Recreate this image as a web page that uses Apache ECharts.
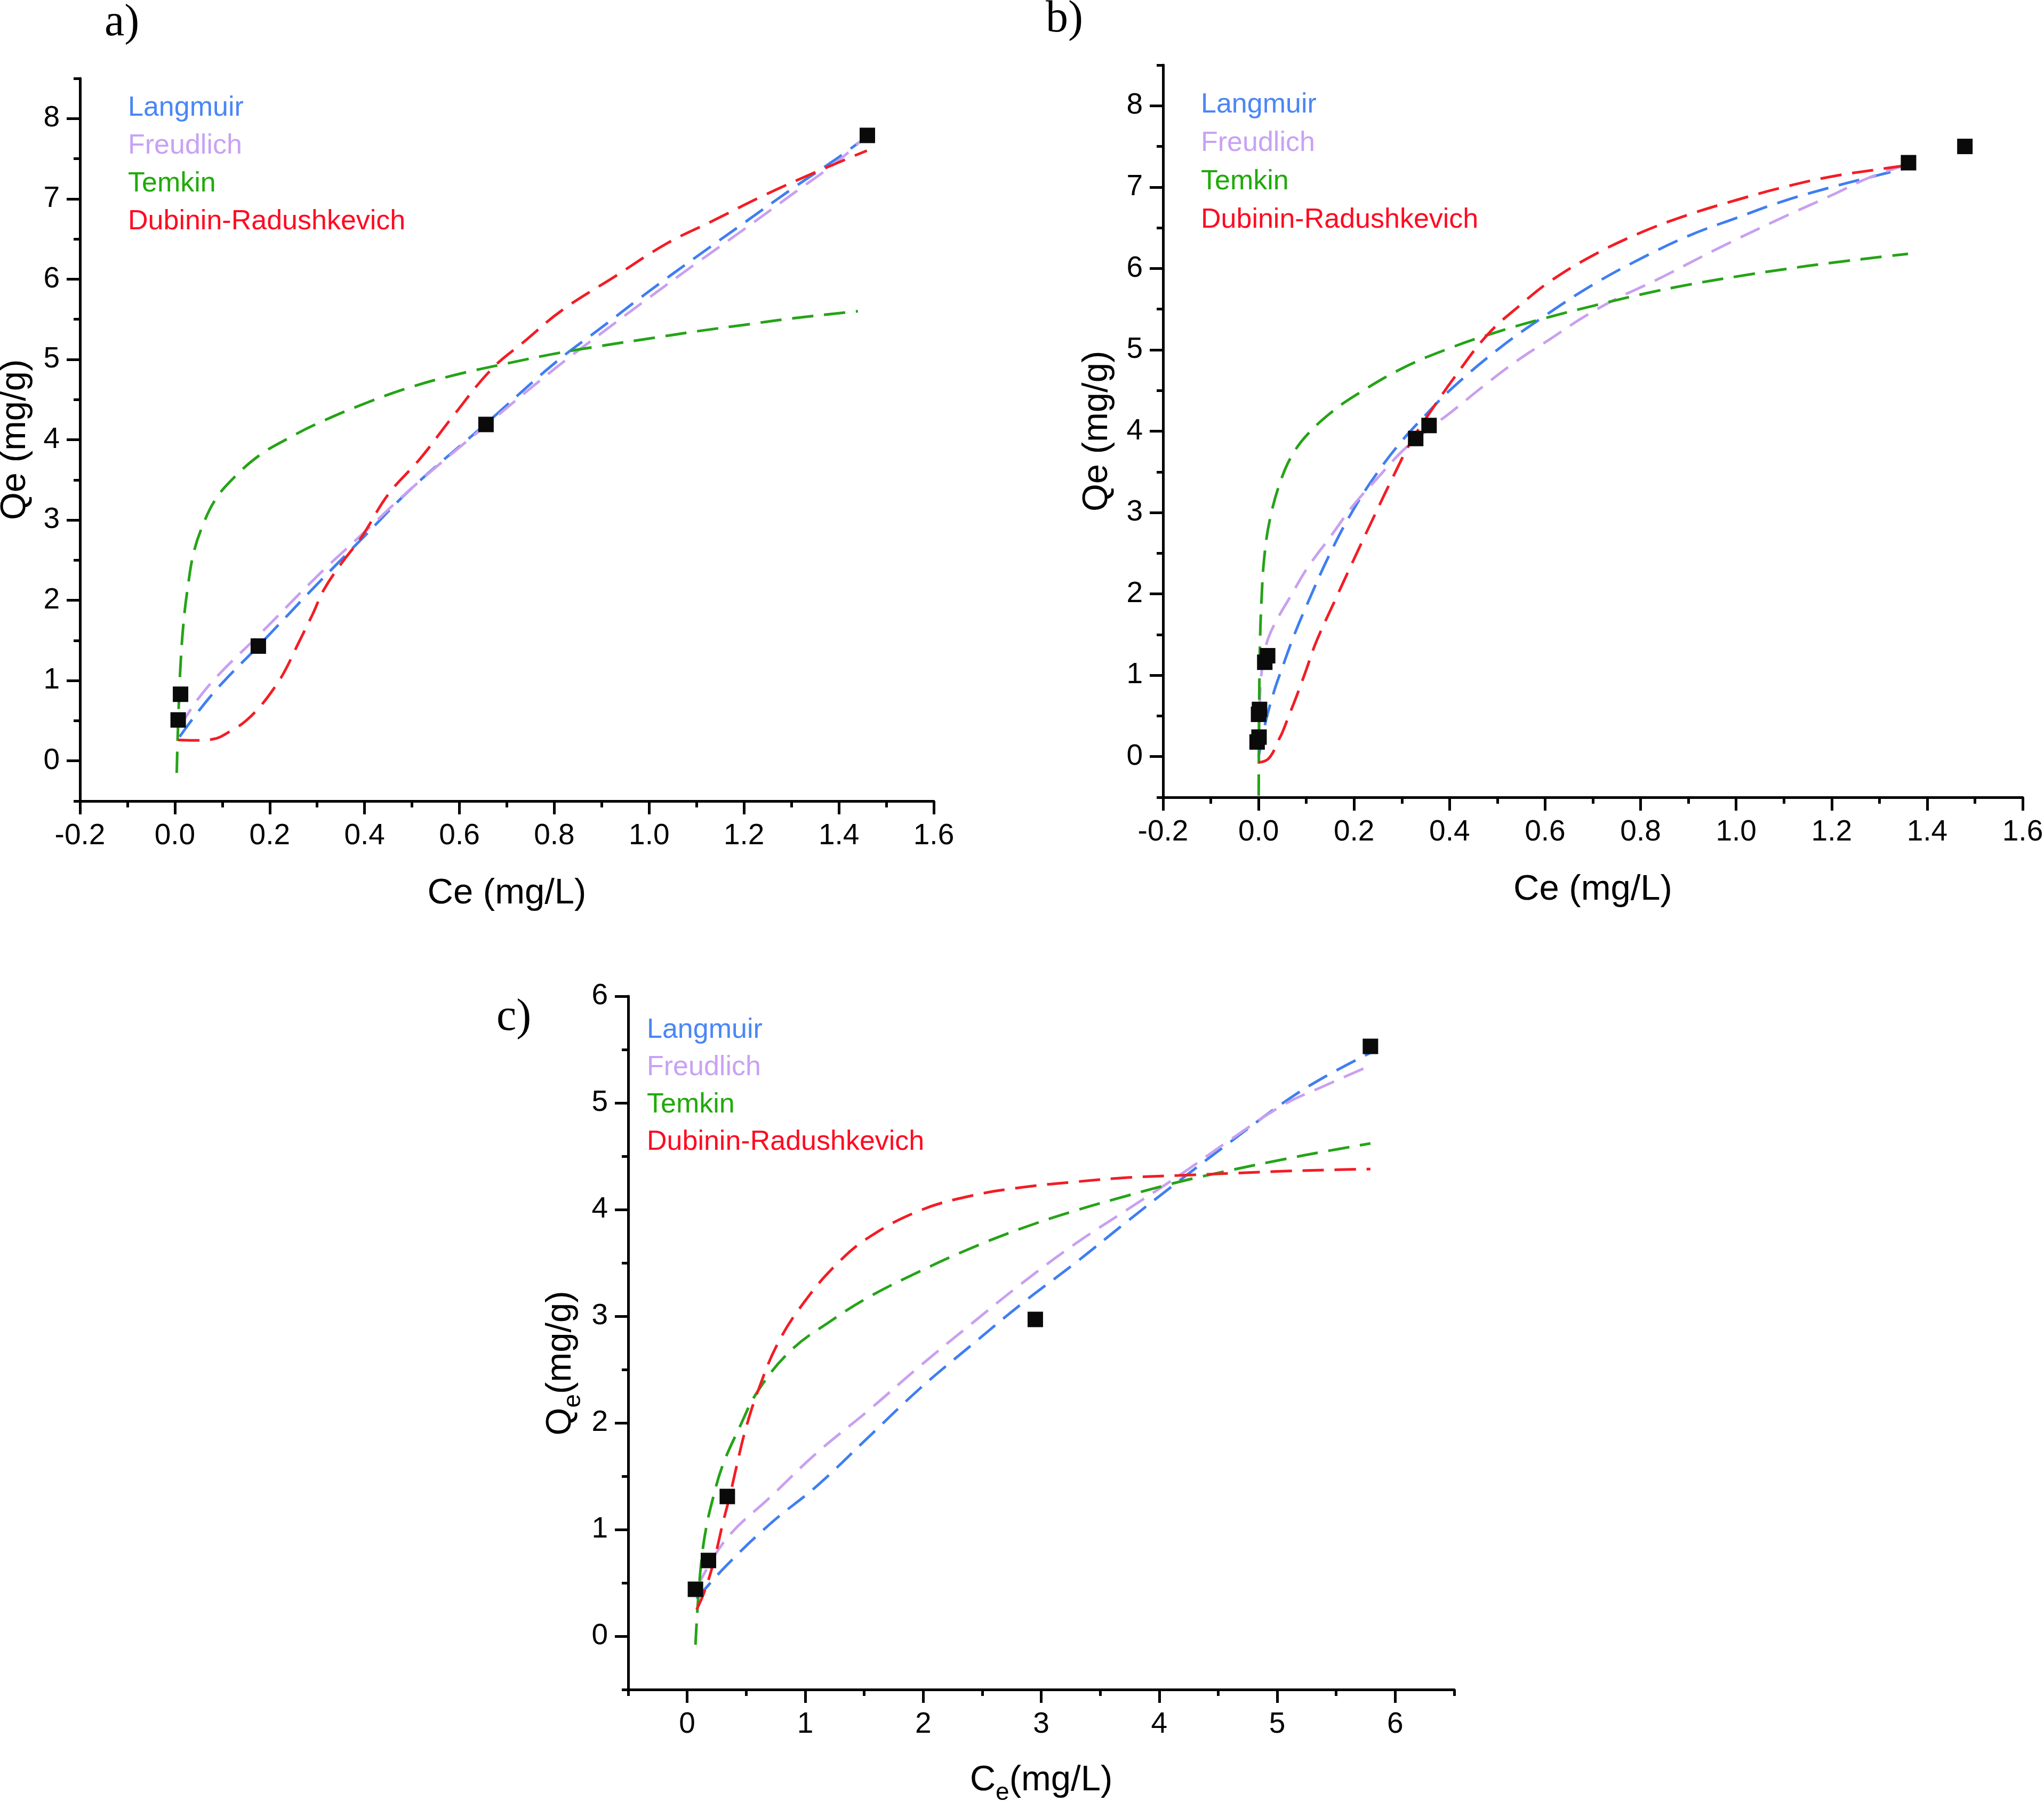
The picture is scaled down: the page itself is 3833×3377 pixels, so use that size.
<!DOCTYPE html>
<html>
<head>
<meta charset="utf-8">
<script src="https://cdn.jsdelivr.net/npm/echarts@6/dist/echarts.min.js"></script>
<style>
html,body{margin:0;padding:0;background:#fff;}
#chart{width:3833px;height:3377px;}
</style>
</head>
<body>
<div id="chart"></div>
<script>
// ---------- names ----------
const seriesNames = ['Langmuir', 'Freudlich', 'Temkin', 'Dubinin-Radushkevich'];

// ---------- tick labels ----------
const abXTicks = [-0.2, 0.0, 0.2, 0.4, 0.6, 0.8, 1.0, 1.2, 1.4, 1.6];
const abXMinor = [-0.1, 0.1, 0.3, 0.5, 0.7, 0.9, 1.1, 1.3, 1.5];
const abYTicks = [0, 1, 2, 3, 4, 5, 6, 7, 8];
const abYMinor = [-0.5, 0.5, 1.5, 2.5, 3.5, 4.5, 5.5, 6.5, 7.5, 8.5];
const cXTicks = [0, 1, 2, 3, 4, 5, 6];
const cXMinor = [-0.5, 0.5, 1.5, 2.5, 3.5, 4.5, 5.5, 6.5];
const cYTicks = [0, 1, 2, 3, 4, 5, 6];
const cYMinor = [-0.5, 0.5, 1.5, 2.5, 3.5, 4.5, 5.5];

// ---------- panel a ----------
const aPtX = [0.007, 0.012, 0.176, 0.656, 1.460];
const aPtY = [0.51, 0.83, 1.43, 4.19, 7.79];
const aLangX = [0.01, 0.05, 0.1, 0.176, 0.3, 0.4, 0.5, 0.656, 0.8, 0.9, 1.0, 1.1, 1.2, 1.3, 1.4, 1.46];
const aLangY = [0.30, 0.62, 0.97, 1.43, 2.2, 2.8, 3.4, 4.2, 4.95, 5.4, 5.85, 6.28, 6.7, 7.12, 7.52, 7.78];
const aFreuX = [0.01, 0.05, 0.1, 0.176, 0.3, 0.4, 0.5, 0.656, 0.8, 0.9, 1.0, 1.1, 1.2, 1.3, 1.4, 1.46];
const aFreuY = [0.42, 0.78, 1.12, 1.56, 2.3, 2.85, 3.4, 4.18, 4.88, 5.33, 5.77, 6.2, 6.62, 7.05, 7.48, 7.8];
const aTemkX = [0.004, 0.006, 0.009, 0.012, 0.018, 0.027, 0.04, 0.06, 0.085, 0.12, 0.177, 0.24, 0.3, 0.4, 0.5, 0.6, 0.7, 0.8, 0.9, 1.0, 1.1, 1.2, 1.3, 1.44];
const aTemkY = [-0.15, 0.3, 0.8, 1.2, 1.7, 2.15, 2.6, 2.95, 3.25, 3.5, 3.8, 4.02, 4.2, 4.45, 4.66, 4.82, 4.95, 5.07, 5.17, 5.26, 5.35, 5.43, 5.51, 5.6];
const aDRX = [0.007, 0.04, 0.08, 0.12, 0.15, 0.18, 0.205, 0.23, 0.26, 0.29, 0.314, 0.35, 0.395, 0.45, 0.518, 0.586, 0.668, 0.736, 0.818, 0.927, 1.036, 1.132, 1.241, 1.35, 1.459];
const aDRY = [0.26, 0.255, 0.27, 0.38, 0.5, 0.68, 0.87, 1.1, 1.46, 1.82, 2.13, 2.45, 2.8, 3.32, 3.77, 4.29, 4.88, 5.22, 5.62, 6.03, 6.44, 6.72, 7.04, 7.33, 7.6];

// ---------- panel b ----------
const bPtX = [-0.003, 0.001, 0.0, 0.002, 0.013, 0.019, 0.329, 0.357, 1.361, 1.479];
const bPtY = [0.18, 0.24, 0.52, 0.58, 1.16, 1.24, 3.91, 4.07, 7.30, 7.50];
const bLangX = [0.0, 0.01, 0.02, 0.035, 0.05, 0.075, 0.1, 0.15, 0.2, 0.25, 0.3, 0.35, 0.4, 0.5, 0.6, 0.7, 0.8, 0.9, 1.0, 1.1, 1.2, 1.3, 1.36];
const bLangY = [0.0, 0.3, 0.55, 0.85, 1.1, 1.5, 1.85, 2.5, 3.05, 3.5, 3.88, 4.2, 4.5, 5.0, 5.42, 5.8, 6.12, 6.4, 6.62, 6.83, 7.0, 7.15, 7.24];
const bFreuX = [0.0005, 0.002, 0.005, 0.01, 0.02, 0.04, 0.07, 0.1, 0.15, 0.2, 0.25, 0.3, 0.35, 0.4, 0.47, 0.54, 0.61, 0.68, 0.75, 0.83, 0.96, 1.08, 1.2, 1.28, 1.36];
const bFreuY = [0.2, 0.6, 0.95, 1.2, 1.45, 1.7, 2.0, 2.3, 2.7, 3.1, 3.43, 3.75, 4.0, 4.22, 4.55, 4.86, 5.13, 5.4, 5.63, 5.85, 6.24, 6.58, 6.9, 7.12, 7.28];
const bTemkX = [0.0003, 0.0008, 0.0015, 0.003, 0.006, 0.012, 0.025, 0.05, 0.075, 0.104, 0.15, 0.2, 0.3, 0.4, 0.5, 0.6, 0.7, 0.8, 0.9, 1.0, 1.1, 1.2, 1.3, 1.36];
const bTemkY = [-0.48, 0.2, 0.8, 1.4, 1.9, 2.45, 2.95, 3.45, 3.75, 3.97, 4.22, 4.43, 4.77, 5.02, 5.22, 5.39, 5.54, 5.68, 5.8, 5.9, 5.99, 6.07, 6.14, 6.18];
const bDRX = [0.0, 0.01, 0.02, 0.03, 0.04, 0.05, 0.064, 0.08, 0.1, 0.12, 0.16, 0.2, 0.24, 0.285, 0.32, 0.36, 0.41, 0.48, 0.55, 0.61, 0.7, 0.8, 0.9, 1.0, 1.1, 1.2, 1.3, 1.36];
const bDRY = [-0.07, -0.06, -0.03, 0.05, 0.18, 0.3, 0.51, 0.75, 1.07, 1.4, 1.92, 2.43, 2.93, 3.48, 3.88, 4.24, 4.66, 5.19, 5.56, 5.84, 6.16, 6.44, 6.66, 6.84, 7.0, 7.13, 7.22, 7.27];

// ---------- panel c ----------
const cPtX = [0.07, 0.18, 0.34, 2.95, 5.79];
const cPtY = [0.44, 0.71, 1.31, 2.97, 5.53];
const cLangX = [0.08, 0.33, 0.71, 1.1, 1.54, 1.97, 2.41, 2.85, 3.29, 3.73, 4.17, 4.61, 5.05, 5.38, 5.79];
const cLangY = [0.35, 0.66, 1.06, 1.41, 1.87, 2.32, 2.73, 3.13, 3.5, 3.89, 4.27, 4.64, 5.0, 5.23, 5.47];
const cFreuX = [0.08, 0.33, 0.71, 1.1, 1.54, 1.97, 2.41, 2.85, 3.29, 3.73, 4.17, 4.61, 5.05, 5.38, 5.79];
const cFreuY = [0.45, 0.91, 1.31, 1.72, 2.12, 2.53, 2.93, 3.32, 3.68, 4.0, 4.32, 4.66, 4.98, 5.15, 5.35];
const cTemkX = [0.07, 0.09, 0.12, 0.16, 0.22, 0.3, 0.44, 0.6, 0.88, 1.21, 1.54, 1.97, 2.41, 2.85, 3.29, 3.73, 4.17, 4.61, 5.05, 5.38, 5.79];
const cTemkY = [-0.08, 0.3, 0.7, 1.01, 1.3, 1.6, 1.95, 2.3, 2.68, 2.95, 3.18, 3.42, 3.64, 3.83, 3.99, 4.13, 4.26, 4.37, 4.47, 4.54, 4.62];
const cDRX = [0.08, 0.14, 0.2, 0.25, 0.3, 0.36, 0.42, 0.49, 0.6, 0.77, 0.99, 1.26, 1.54, 1.97, 2.41, 2.85, 3.29, 3.73, 4.17, 4.61, 5.05, 5.38, 5.79];
const cDRY = [0.25, 0.4, 0.6, 0.81, 1.05, 1.31, 1.6, 1.92, 2.3, 2.75, 3.13, 3.48, 3.74, 3.99, 4.13, 4.21, 4.26, 4.3, 4.32, 4.34, 4.36, 4.37, 4.38];

// ---------- styling ----------
const FONT = '"Liberation Sans", Arial, sans-serif';
const lineColors = ['#3f7ef2', '#c9a0f0', '#25a317', '#f31c24'];
const legendColors = ['#4a86f5', '#c8a2f5', '#1faa08', '#ff0a22'];

function zip(xs, ys) { return xs.map((x, i) => [x, ys[i]]); }

function mainX(grid, min, max, ticks, fmt, name, nameGap, extraName) {
  return Object.assign({
    type: 'value', gridIndex: grid, min: min, max: max, position: 'bottom',
    axisLine: { show: true, onZero: false, lineStyle: { color: '#000', width: 5 } },
    axisTick: { show: true, customValues: ticks, length: 25, lineStyle: { color: '#000', width: 5 } },
    axisLabel: { customValues: ticks, formatter: fmt, fontSize: 55, color: '#000', fontFamily: FONT, margin: 38 },
    splitLine: { show: false },
    name: name, nameLocation: 'middle', nameGap: nameGap,
    nameTextStyle: { fontSize: 67, color: '#000', fontFamily: FONT }
  }, extraName || {});
}
function mainY(grid, min, max, ticks, name, nameGap, extraName) {
  return Object.assign({
    type: 'value', gridIndex: grid, min: min, max: max, position: 'left',
    axisLine: { show: true, onZero: false, lineStyle: { color: '#000', width: 5 } },
    axisTick: { show: true, customValues: ticks, length: 25, lineStyle: { color: '#000', width: 5 } },
    axisLabel: { customValues: ticks, formatter: v => String(v), fontSize: 55, color: '#000', fontFamily: FONT, margin: 38 },
    splitLine: { show: false },
    name: name, nameLocation: 'middle', nameGap: nameGap,
    nameTextStyle: { fontSize: 67, color: '#000', fontFamily: FONT }
  }, extraName || {});
}
function minorAxis(grid, min, max, ticks, pos) {
  return {
    type: 'value', gridIndex: grid, min: min, max: max, position: pos,
    axisLine: { show: false, onZero: false },
    axisTick: { show: true, customValues: ticks, length: 12, lineStyle: { color: '#000', width: 5 } },
    axisLabel: { show: false },
    splitLine: { show: false }
  };
}

const fmt1 = v => v.toFixed(1);

const richSub = {
  n: { fontSize: 67, color: '#000', fontFamily: FONT },
  s: { fontSize: 46, color: '#000', fontFamily: FONT, padding: [46, 0, 0, 0] }
};

const xAxes = [
  mainX(0, -0.2, 1.6, abXTicks, fmt1, 'Ce (mg/L)', 140),
  minorAxis(0, -0.2, 1.6, abXMinor, 'bottom'),
  mainX(1, -0.2, 1.6, abXTicks, fmt1, 'Ce (mg/L)', 140),
  minorAxis(1, -0.2, 1.6, abXMinor, 'bottom'),
  mainX(2, -0.5, 6.5, cXTicks, v => String(v), '{n|C}{s|e}{n|(mg/L)}', 125,
    { nameTextStyle: { fontSize: 67, color: '#000', fontFamily: FONT, rich: richSub } }),
  minorAxis(2, -0.5, 6.5, cXMinor, 'bottom')
];
const yAxes = [
  mainY(0, -0.5, 8.5, abYTicks, 'Qe (mg/g)', 88),
  minorAxis(0, -0.5, 8.5, abYMinor, 'left'),
  mainY(1, -0.5, 8.5, abYTicks, 'Qe (mg/g)', 90),
  minorAxis(1, -0.5, 8.5, abYMinor, 'left'),
  mainY(2, -0.5, 6, cYTicks, '{n|Q}{s|e}{n|(mg/g)}', 80,
    { nameTextStyle: { fontSize: 67, color: '#000', fontFamily: FONT, rich: richSub, padding: [0, 76, 0, 0] } }),
  minorAxis(2, -0.5, 6, cYMinor, 'left')
];

const panels = [
  { ax: 0, lines: [[aLangX, aLangY], [aFreuX, aFreuY], [aTemkX, aTemkY], [aDRX, aDRY]], pts: [aPtX, aPtY] },
  { ax: 2, lines: [[bLangX, bLangY], [bFreuX, bFreuY], [bTemkX, bTemkY], [bDRX, bDRY]], pts: [bPtX, bPtY] },
  { ax: 4, lines: [[cLangX, cLangY], [cFreuX, cFreuY], [cTemkX, cTemkY], [cDRX, cDRY]], pts: [cPtX, cPtY] }
];

const series = [];
panels.forEach(p => {
  p.lines.forEach((ln, i) => {
    series.push({
      type: 'line', name: seriesNames[i], xAxisIndex: p.ax, yAxisIndex: p.ax,
      data: zip(ln[0], ln[1]), showSymbol: false, symbol: 'none',
      smooth: 0.4, clip: true,
      lineStyle: { color: lineColors[i], width: 5, type: [40, 20] },
      itemStyle: { color: lineColors[i] },
      z: 3, silent: true, animation: false
    });
  });
  series.push({
    type: 'scatter', name: 'Experimental', xAxisIndex: p.ax, yAxisIndex: p.ax,
    data: zip(p.pts[0], p.pts[1]), symbol: 'rect', symbolSize: 29,
    itemStyle: { color: '#0a0a0a', opacity: 1 }, z: 5, silent: true, animation: false
  });
});

const legendItems = seriesNames.map((n, i) => ({ name: n, icon: 'none', textStyle: { color: legendColors[i] } }));
function mkLegend(left, top, gap) {
  return {
    left: left, top: top, orient: 'vertical', padding: 0, itemGap: gap,
    itemWidth: 0, itemHeight: 10, icon: 'none', selectedMode: false,
    textStyle: { fontSize: 52, lineHeight: 60, fontFamily: FONT },
    data: legendItems
  };
}

const option = {
  backgroundColor: '#fff',
  animation: false,
  grid: [
    { left: 150, top: 147, width: 1601, height: 1355, outerBoundsMode: 'none', containLabel: false },
    { left: 2181, top: 122, width: 1612, height: 1373, outerBoundsMode: 'none', containLabel: false },
    { left: 1178, top: 1868, width: 1549, height: 1300, outerBoundsMode: 'none', containLabel: false }
  ],
  xAxis: xAxes,
  yAxis: yAxes,
  legend: [mkLegend(235, 173, 11), mkLegend(2247, 167, 12), mkLegend(1208, 1902, 10)],
  graphic: [
    { type: 'text', x: 196, y: 44, style: { text: 'a)', fontSize: 84, fontFamily: '"Liberation Serif", "Times New Roman", serif', fill: '#000', verticalAlign: 'middle' } },
    { type: 'text', x: 1961, y: 37, style: { text: 'b)', fontSize: 84, fontFamily: '"Liberation Serif", "Times New Roman", serif', fill: '#000', verticalAlign: 'middle' } },
    { type: 'text', x: 931, y: 1909, style: { text: 'c)', fontSize: 84, fontFamily: '"Liberation Serif", "Times New Roman", serif', fill: '#000', verticalAlign: 'middle' } }
  ],
  series: series
};

const chart = echarts.init(document.getElementById('chart'), null, { renderer: 'canvas', width: 3833, height: 3377 });
chart.setOption(option);
</script>
</body>
</html>
